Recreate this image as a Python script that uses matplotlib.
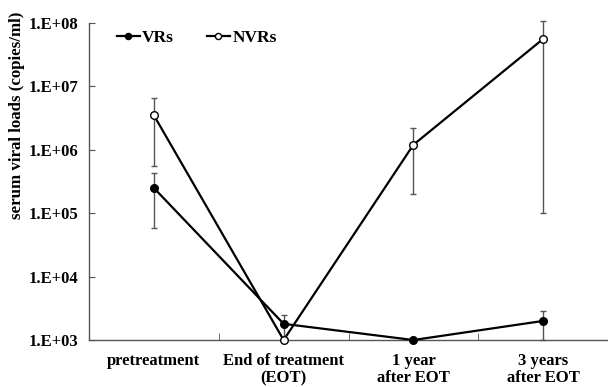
import numpy as np
import matplotlib.pyplot as plt
from matplotlib.ticker import FixedLocator, FuncFormatter, NullLocator

plt.rcParams['font.family'] = ['Liberation Serif', 'DejaVu Serif']
plt.rcParams['font.weight'] = 'bold'

categories = ['pretreatment', 'End of treatment\n(EOT)', '1 year\nafter EOT', '3 years\nafter EOT']

# viral loads (copies/ml) with error bar ends
vrs = [2.5e5, 1.8e3, 1.0e3, 2.0e3]
vrs_hi = [4.3e5, 2.5e3, 1.0e3, 2.9e3]
vrs_lo = [5.8e4, 1.0e3, 1.0e3, 1.0e3]

nvrs = [3.5e6, 1.0e3, 1.2e6, 5.6e7]
nvrs_hi = [6.5e6, 1.0e3, 2.2e6, 1.07e8]
nvrs_lo = [5.6e5, 1.0e3, 2.0e5, 1.0e5]

x = np.arange(len(categories))

fig = plt.figure(figsize=(6.08, 3.87), dpi=100)
ax = fig.add_axes([0.1464, 0.1214, 0.8536, 0.8192])

def err(v, lo, hi):
    v = np.array(v)
    return [v - np.array(lo), np.array(hi) - v]

ax.errorbar(x, nvrs, yerr=err(nvrs, nvrs_lo, nvrs_hi), fmt='none', ecolor='#555555',
            elinewidth=1, capsize=2.5, capthick=1, zorder=2, clip_on=False)
ax.errorbar(x, vrs, yerr=err(vrs, vrs_lo, vrs_hi), fmt='none', ecolor='#555555',
            elinewidth=1, capsize=2.5, capthick=1, zorder=2, clip_on=False)

ax.plot(x, vrs, '-o', color='black', lw=1.6, ms=5.5, mfc='black', mew=1,
        label='VRs', zorder=3, clip_on=False)
ax.plot(x, nvrs, '-o', color='black', lw=1.6, ms=5.5, mfc='white', mew=1,
        label='NVRs', zorder=3, clip_on=False)

ax.set_yscale('log')
ax.set_ylim(1e3, 1e8)
ax.set_xlim(-0.5, 3.5)

ax.yaxis.set_major_locator(FixedLocator([1e3, 1e4, 1e5, 1e6, 1e7, 1e8]))
ax.yaxis.set_minor_locator(NullLocator())
ax.yaxis.set_major_formatter(FuncFormatter(lambda v, p: '1.E+%02d' % round(np.log10(v))))

ax.set_xticks(x)
ax.set_xticklabels(categories, fontsize=12, fontweight='bold', linespacing=1.12)
ax.set_xticks([0.5, 1.5, 2.5], minor=True)
ax.tick_params(axis='x', which='major', length=0, pad=9)
ax.tick_params(axis='x', which='minor', direction='in', length=5, color='#555555')
ax.tick_params(axis='y', direction='in', length=4, color='#555555', labelsize=12, pad=8)
for lab in ax.get_yticklabels():
    lab.set_fontweight('bold')

ax.set_ylabel('serum viral loads (copies/ml)', fontsize=12.2, fontweight='bold')
ax.yaxis.set_label_coords(-0.123, 0.71)

for s in ['top', 'right']:
    ax.spines[s].set_visible(False)
for s in ['left', 'bottom']:
    ax.spines[s].set_color('#555555')
    ax.spines[s].set_linewidth(1)

ax.legend(loc='center left', bbox_to_anchor=(0.054, 0.9527), ncol=2, frameon=False,
          prop={'weight': 'bold', 'size': 12.5}, handlelength=1.3, handletextpad=0.15,
          columnspacing=1.9, borderpad=0, borderaxespad=0, markerscale=0.8)

fig.savefig('out.png', dpi=100)
